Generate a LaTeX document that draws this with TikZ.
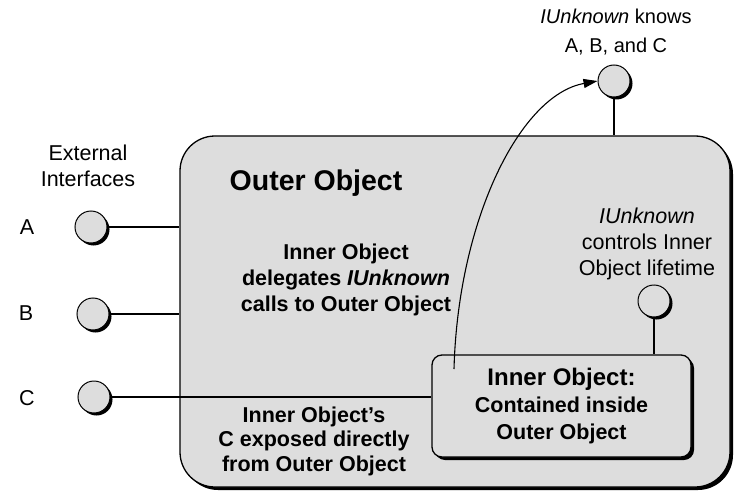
\documentclass[tikz,border=0pt]{standalone}
\usepackage{fontspec}
\setmainfont{Liberation Sans}
\usetikzlibrary{shadows,arrows.meta}
\definecolor{boxgray}{RGB}{221,221,221}
\tikzset{
  iface/.style={circle, draw, line width=1pt, fill=boxgray, minimum size=32pt, inner sep=0pt,
    general shadow={fill=black, shadow xshift=2.5pt, shadow yshift=-2.5pt}},
  plain/.style={align=center, font=\fontsize{21.5}{26}\selectfont},
  bold/.style={align=center, font=\fontsize{21.5}{26}\selectfont\bfseries},
}
\begin{document}
\begin{tikzpicture}[x=1pt, y=-1pt, line width=1.1pt]
\useasboundingbox (0,0) rectangle (736,492);
\node[draw, line width=1.3pt, fill=boxgray, rounded corners=35pt, minimum width=550pt, minimum height=351pt,
  general shadow={fill=black, shadow xshift=3pt, shadow yshift=-3pt, rounded corners=35pt}] (outer) at (455,311.5){};
\node[font=\fontsize{28.5}{34}\selectfont\bfseries] (outerttl) at (316,183){Outer Object};
\node[draw, line width=1.3pt, fill=boxgray, rounded corners=10pt, minimum width=259pt, minimum height=102pt,
  general shadow={fill=black, shadow xshift=3pt, shadow yshift=-3pt, rounded corners=10pt},
  align=center, font=\fontsize{21.5}{27}\selectfont\bfseries] (inner) at (561.5,406)
  {{\fontsize{24}{28}\selectfont Inner Object:}\\Contained inside\\Outer Object};
\node[plain] (extlbl) at (88,166){External\\Interfaces};
\node[plain] (lblA) at (27,227){A};
\node[plain] (lblB) at (26,313){B};
\node[plain] (lblC) at (27,398){C};
\node[iface] (ifA) at (91,227){};
\node[iface] (ifB) at (93,314){};
\node[iface] (ifC) at (94,397){};
\draw[](ifA) -- (ifA -| outer.west);
\draw[](ifB) -- (ifB -| outer.west);
\draw[](ifC) -- (ifC -| inner.west);
\node[iface] (ifK) at (614,81){};
\node[plain, font=\fontsize{20}{29}\selectfont] (knowlbl) at (616,32){\textit{IUnknown} knows\\A, B, and C};
\draw[](ifK) -- (ifK |- outer.north);
\node[iface] (ifL) at (654,301){};
\node[plain] (ctrllbl) at (647,244){\textit{IUnknown}\\controls Inner\\Object lifetime};
\draw[](ifL) -- (ifL |- inner.north);
\node[bold] (dlglbl) at (346,280){Inner Object\\delegates \textit{IUnknown}\\calls to Outer Object};
\node[bold, font=\fontsize{21.5}{24.5}\selectfont\bfseries] (explbl) at (314,441){Inner Object’s\\C exposed directly\\from Outer Object};
\coordinate (dlg) at (454,369);
\draw[-{Triangle[length=14pt,width=9pt]}] (dlg) .. controls (458,220) and (520,95) .. (ifK.west);
\end{tikzpicture}
\end{document}
